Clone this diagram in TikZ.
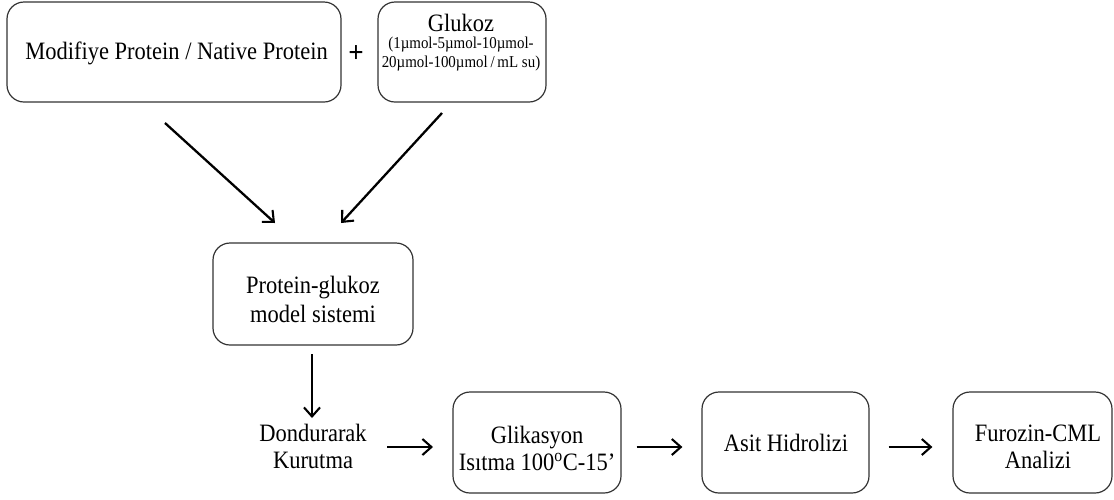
\documentclass[tikz,border=0pt]{standalone}
\usepackage{fontspec}
\setmainfont[FakeStretch=0.9]{Liberation Serif}
\usetikzlibrary{arrows.meta}
\begin{document}
\begin{tikzpicture}[x=1pt,y=-1pt,
  box/.style={draw=black!80, line width=1.2pt, rounded corners=17pt, inner sep=0pt},
  lbl/.style={align=center, inner sep=0pt, text=black, font=\fontsize{25}{27}\selectfont},
  arr/.style={draw=black, line width=2.3pt, -{Straight Barb[length=9pt,width=16pt,line width=2.1pt]}}]
\useasboundingbox (0,0) rectangle (1114,499);

% top row: inputs
\node[box, minimum width=334pt, minimum height=100pt] (mp) at (174,52) {};
\node[lbl] (mpt) at (176.5,53) {Modifiye Protein / Native Protein};
\node[lbl, font=\fontsize{30}{30}\bfseries] (plus) at (356,54) {+};
\node[box, minimum width=168pt, minimum height=100pt] (gk) at (462,52) {};
\node[lbl] (gkt) at (461,23) {Glukoz};
\node[lbl, font=\fontsize{16.6}{19}\selectfont] (gks) at (461,54) {(1µmol-5µmol-10µmol-\\20µmol-100µmol\,/\,mL su)};

% model system
\node[box, minimum width=200pt, minimum height=102pt] (pg) at (313,294) {};
\node[lbl, font=\fontsize{25}{29}\selectfont] (pgt) at (313,299) {Protein-glukoz\\model sistemi};

% bottom row: process steps
\node[lbl] (dk) at (313,446) {Dondurarak\\Kurutma};
\node[box, minimum width=168pt, minimum height=101pt] (gl) at (537,442.5) {};
\node[lbl] (glt) at (537,448) {Glikasyon\\Isıtma 100\textsuperscript{o}C-15’};
\node[box, minimum width=167pt, minimum height=101pt] (ah) at (785.5,442.5) {};
\node[lbl] (aht) at (786,443) {Asit Hidrolizi};
\node[box, minimum width=159pt, minimum height=101pt] (fz) at (1032.5,442.5) {};
\node[lbl] (fzt) at (1038,447) {Furozin-CML\\Analizi};

% free ends of the connectors
\coordinate (a1s) at (165,123);
\coordinate (a1e) at (275,223);
\coordinate (a2s) at (442,113);
\coordinate (a2e) at (341,223);
\coordinate (a3s) at (312,354);
\coordinate (a3e) at (312,418);
\coordinate (h1s) at (387,447);
\coordinate (h1e) at (433,447);

\draw[arr] (a1s) -- (a1e);
\draw[arr] (a2s) -- (a2e);
\draw[arr] (a3s) -- (a3e);
\draw[arr] (h1s) -- (h1e);
\draw[arr, shorten <=15pt, shorten >=19pt] (gl.east |- 0,447) -- (ah.west |- 0,447);
\draw[arr, shorten <=19pt, shorten >=20pt] (ah.east |- 0,447) -- (fz.west |- 0,447);
\end{tikzpicture}
\end{document}
